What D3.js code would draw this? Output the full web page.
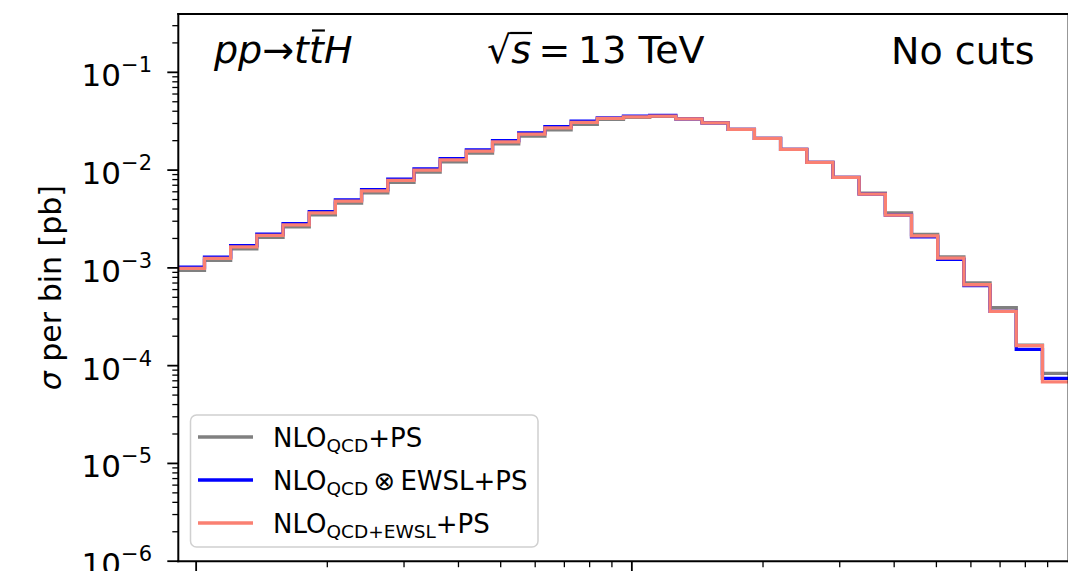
<!DOCTYPE html>
<html>
<head>
<meta charset="utf-8">
<script src="https://cdnjs.cloudflare.com/ajax/libs/d3/7.8.5/d3.min.js"></script>
<style>
  body { margin: 0; background: #fff; }
  svg { display: block; font-family: "DejaVu Sans", sans-serif; }
</style>
</head>
<body>
<div id="chart"></div>
<script>
// log-spaced bin edges (35 edges -> 34 bins)
var binEdges = [91.0, 104.5, 120.0, 137.8, 158.3, 181.8, 208.7, 239.7, 275.3, 316.2,
  363.1, 417.0, 478.9, 550.0, 631.6, 725.4, 833.0, 956.6, 1098.6, 1261.6,
  1448.8, 1663.9, 1910.9, 2194.5, 2520.2, 2894.3, 3323.9, 3817.2, 4383.8, 5034.5,
  5781.7, 6639.8, 7625.4, 8757.2, 10055];

// sigma per bin [pb]
var nloQcdPs = [9.43e-4, 1.193e-3, 1.567e-3, 2.050e-3, 2.631e-3, 3.492e-3, 4.597e-3, 5.860e-3, 7.485e-3, 9.54e-3,
  1.216e-2, 1.492e-2, 1.858e-2, 2.227e-2, 2.582e-2, 2.933e-2, 3.300e-2, 3.460e-2, 3.550e-2, 3.346e-2,
  3.045e-2, 2.608e-2, 2.109e-2, 1.628e-2, 1.199e-2, 8.42e-3, 5.82e-3, 3.66e-3, 2.20e-3, 1.298e-3,
  7.04e-4, 3.91e-4, 1.624e-4, 8.34e-5];

var nloQcdTimesEwslPs = [1.018e-3, 1.289e-3, 1.692e-3, 2.213e-3, 2.841e-3, 3.770e-3, 4.964e-3, 6.327e-3, 8.081e-3, 1.030e-2,
  1.313e-2, 1.611e-2, 2.006e-2, 2.404e-2, 2.788e-2, 3.166e-2, 3.429e-2, 3.561e-2, 3.618e-2, 3.346e-2,
  3.045e-2, 2.608e-2, 2.109e-2, 1.628e-2, 1.199e-2, 8.42e-3, 5.683e-3, 3.466e-3, 2.080e-3, 1.221e-3,
  6.57e-4, 3.59e-4, 1.469e-4, 7.41e-5];

var nloQcdPlusEwslPs = [9.88e-4, 1.251e-3, 1.643e-3, 2.149e-3, 2.758e-3, 3.660e-3, 4.819e-3, 6.143e-3, 7.846e-3, 1.000e-2,
  1.275e-2, 1.564e-2, 1.948e-2, 2.334e-2, 2.707e-2, 3.074e-2, 3.378e-2, 3.508e-2, 3.565e-2, 3.346e-2,
  3.045e-2, 2.608e-2, 2.109e-2, 1.628e-2, 1.199e-2, 8.42e-3, 5.683e-3, 3.466e-3, 2.129e-3, 1.259e-3,
  6.72e-4, 3.59e-4, 1.605e-4, 6.84e-5];

var yTickExponents = [-6, -5, -4, -3, -2, -1];

var series = [
  {values: nloQcdPs, color: "#808080",
   label: [{t: "NLO"}, {t: "QCD", sub: true}, {t: "+PS"}]},
  {values: nloQcdTimesEwslPs, color: "#0000ff",
   label: [{t: "NLO"}, {t: "QCD", sub: true}, {t: "\u2009\u2297\u2009EWSL+PS"}]},
  {values: nloQcdPlusEwslPs, color: "#fa8072",
   label: [{t: "NLO"}, {t: "QCD+EWSL", sub: true}, {t: "+PS"}]}
];

(function(){

  var width = 1068,
      height = 571,
      x0 = 178.3,
      x1 = 1068.6,
      y0 = 14,
      y1 = 561.2;

  var svg = d3.select("#chart").append("svg")
      .attr("width", width)
      .attr("height", height);

  var x = d3.scaleLog()
      .domain([binEdges[0], binEdges[binEdges.length - 1]])
      .range([x0, x1]);

  var y = d3.scaleLog()
      .domain([1e-6, 0.395])
      .range([y1, y0]);

  svg.append("clipPath").attr("id", "plot-area")
    .append("rect")
      .attr("x", x0).attr("y", y0)
      .attr("width", x1 - x0).attr("height", y1 - y0);

  // histogram outlines
  var line = d3.line()
      .x(function(d) { return x(d[0]); })
      .y(function(d) { return y(d[1]); })
      .curve(d3.curveStepAfter);

  svg.append("g")
      .attr("clip-path", "url(#plot-area)")
    .selectAll("path")
    .data(series)
    .enter().append("path")
      .attr("fill", "none")
      .attr("stroke", function(d) { return d.color; })
      .attr("stroke-width", 3.3)
      .attr("d", function(d) {
        var pts = d.values.map(function(v, i) { return [binEdges[i], v]; });
        pts.push([binEdges[binEdges.length - 1], d.values[d.values.length - 1]]);
        return line(pts);
      });

  function isDecade(v) {
    var l = Math.log10(v);
    return Math.abs(l - Math.round(l)) < 1e-9;
  }

  // y ticks
  svg.append("g").selectAll("line")
    .data(y.ticks())
    .enter().append("line")
      .attr("x1", function(d) { return x0 - (isDecade(d) ? 11 : 6); })
      .attr("x2", x0)
      .attr("y1", function(d) { return y(d); })
      .attr("y2", function(d) { return y(d); })
      .attr("stroke", "#000")
      .attr("stroke-width", function(d) { return isDecade(d) ? 1.8 : 1.3; });

  var yLabels = svg.append("g").selectAll("text")
    .data(yTickExponents)
    .enter().append("text")
      .attr("x", 152)
      .attr("y", function(d) { return y(Math.pow(10, d)) + 14; })
      .attr("text-anchor", "end")
      .attr("fill", "#000");
  yLabels.append("tspan").attr("font-size", 31).text("10");
  yLabels.append("tspan").attr("font-size", 21).attr("dy", -14)
      .text(function(d) { return "\u2212" + Math.abs(d); });

  // x ticks (their labels sit below the visible area)
  svg.append("g").selectAll("line")
    .data(x.ticks().filter(function(d) { return x(d) < 1066; }))
    .enter().append("line")
      .attr("x1", function(d) { return x(d); })
      .attr("x2", function(d) { return x(d); })
      .attr("y1", y1)
      .attr("y2", function(d) { return y1 + (isDecade(d) ? 11 : 6); })
      .attr("stroke", "#000")
      .attr("stroke-width", function(d) { return isDecade(d) ? 1.8 : 1.3; });

  // spines
  var spines = [
    [x0, y0, x0, y1],
    [x0, y1, x1, y1],
    [x0, y0, x1, y0],
    [x1, y0, x1, y1]
  ];
  svg.append("g").selectAll("line")
    .data(spines)
    .enter().append("line")
      .attr("x1", function(d) { return d[0]; })
      .attr("y1", function(d) { return d[1]; })
      .attr("x2", function(d) { return d[2]; })
      .attr("y2", function(d) { return d[3]; })
      .attr("stroke", "#000")
      .attr("stroke-width", 2)
      .attr("stroke-linecap", "square");

  // y axis title
  var yTitle = svg.append("text")
      .attr("transform", "translate(61," + ((y0 + y1) / 2) + ") rotate(-90)")
      .attr("text-anchor", "middle")
      .attr("font-size", 30);
  yTitle.append("tspan").attr("font-style", "italic").text("\u03c3");
  yTitle.append("tspan").text(" per bin [pb]");

  // annotations inside the frame
  var proc = svg.append("text")
      .attr("x", 214)
      .attr("y", 63)
      .attr("font-size", 38);
  proc.append("tspan").attr("font-style", "italic").text("pp");
  proc.append("tspan").text("\u2192");
  proc.append("tspan").attr("font-style", "italic").text("ttH");
  var tbar = proc.node().getExtentOfChar(4);
  svg.append("line")
      .attr("x1", tbar.x + 3).attr("x2", tbar.x + tbar.width + 1)
      .attr("y1", 30.5).attr("y2", 30.5)
      .attr("stroke", "#000").attr("stroke-width", 2.2);

  var energy = svg.append("text")
      .attr("x", 487)
      .attr("y", 63)
      .attr("font-size", 38);
  energy.append("tspan").text("\u221a");
  energy.append("tspan").attr("font-style", "italic").text("s");
  energy.append("tspan").text("\u2009=\u200913 TeV");
  var rootEnd = energy.node().getEndPositionOfChar(0).x,
      sEnd = energy.node().getEndPositionOfChar(1).x;
  svg.append("line")
      .attr("x1", rootEnd - 1).attr("x2", sEnd + 1)
      .attr("y1", 33).attr("y2", 33)
      .attr("stroke", "#000").attr("stroke-width", 2.2);

  svg.append("text")
      .attr("x", 891)
      .attr("y", 64)
      .attr("font-size", 38)
      .text("No cuts");

  // legend
  var legend = svg.append("g");
  legend.append("rect")
      .attr("x", 190.5).attr("y", 415)
      .attr("width", 347.5).attr("height", 132)
      .attr("rx", 6)
      .attr("fill", "#fff").attr("fill-opacity", 0.8)
      .attr("stroke", "#d0d0d0").attr("stroke-width", 1.5);

  var rows = legend.selectAll("g.entry")
    .data(series)
    .enter().append("g")
      .attr("class", "entry")
      .attr("transform", function(d, i) { return "translate(0," + (437 + i * 43) + ")"; });

  rows.append("line")
      .attr("x1", 198).attr("x2", 253)
      .attr("stroke", function(d) { return d.color; })
      .attr("stroke-width", 3.5);

  rows.append("text")
      .attr("x", 273)
      .attr("y", 10)
      .attr("font-size", 26)
      .each(function(d) {
        var t = d3.select(this), shifted = false;
        d.label.forEach(function(p) {
          var s = t.append("tspan").text(p.t);
          if (p.sub) { s.attr("font-size", 18.5).attr("dy", 5); shifted = true; }
          else if (shifted) { s.attr("dy", -5); shifted = false; }
        });
      });

})();
</script>
</body>
</html>
